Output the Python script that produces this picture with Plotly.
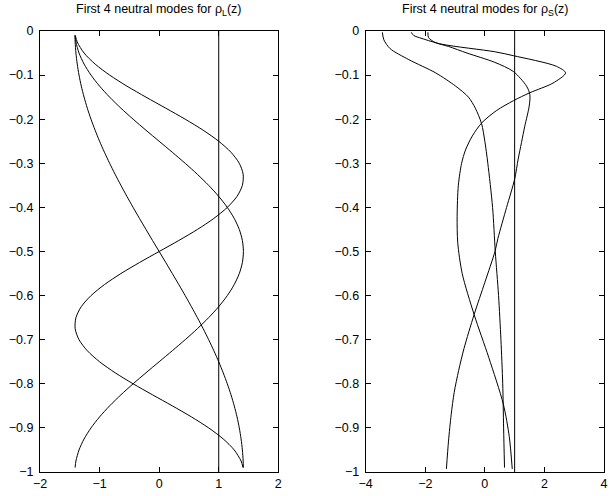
import plotly.graph_objects as go
from plotly.subplots import make_subplots

# ---------- left panel: modes for rho_L(z) ----------
z_left = [-0.01, -0.025, -0.05, -0.075, -0.10, -0.125, -0.15, -0.175, -0.20, -0.225,
          -0.25, -0.275, -0.30, -0.325, -0.35, -0.375, -0.40, -0.425, -0.45, -0.475,
          -0.50, -0.525, -0.55, -0.575, -0.60, -0.625, -0.65, -0.675, -0.70, -0.725,
          -0.75, -0.775, -0.80, -0.825, -0.85, -0.875, -0.90, -0.925, -0.95, -0.975, -0.99]
left_mode0_x = [1, 1]
left_mode0_z = [0, -1]
left_mode1 = [-1.413, -1.410, -1.397, -1.375, -1.345, -1.307, -1.260, -1.206, -1.144, -1.075,
              -1.000, -0.918, -0.831, -0.739, -0.642, -0.541, -0.437, -0.330, -0.221, -0.111,
              0.0, 0.111, 0.221, 0.330, 0.437, 0.541, 0.642, 0.739, 0.831, 0.918,
              1.000, 1.075, 1.144, 1.206, 1.260, 1.307, 1.345, 1.375, 1.397, 1.410, 1.413]
left_mode2 = [-1.411, -1.397, -1.345, -1.260, -1.144, -1.000, -0.831, -0.642, -0.437, -0.221,
              0.0, 0.221, 0.437, 0.642, 0.831, 1.000, 1.144, 1.260, 1.345, 1.397,
              1.414, 1.397, 1.345, 1.260, 1.144, 1.000, 0.831, 0.642, 0.437, 0.221,
              0.0, -0.221, -0.437, -0.642, -0.831, -1.000, -1.144, -1.260, -1.345, -1.397, -1.411]
left_mode3 = [-1.408, -1.375, -1.260, -1.075, -0.831, -0.541, -0.221, 0.111, 0.437, 0.739,
              1.000, 1.206, 1.345, 1.410, 1.397, 1.307, 1.144, 0.918, 0.642, 0.330,
              0.0, -0.330, -0.642, -0.918, -1.144, -1.307, -1.397, -1.410, -1.345, -1.206,
              -1.000, -0.739, -0.437, -0.111, 0.221, 0.541, 0.831, 1.075, 1.260, 1.375, 1.408]

# ---------- right panel: modes for rho_S(z) ----------
right_mode0_x = [1, 1]
right_mode0_z = [0, -1]
right_mode1_z = [-0.003, -0.02, -0.04, -0.065, -0.095, -0.125, -0.15, -0.175, -0.21, -0.25,
                 -0.30, -0.40, -0.50, -0.60, -0.70, -0.80, -0.90, -0.99]
right_mode1_x = [-3.44, -3.39, -3.18, -2.55, -1.65, -0.98, -0.55, -0.32, -0.11, 0.0,
                 0.10, 0.26, 0.35, 0.46, 0.54, 0.60, 0.63, 0.66]
right_mode2_z = [-0.003, -0.015, -0.026, -0.035, -0.05, -0.071, -0.092, -0.125, -0.144, -0.17,
                 -0.216, -0.253, -0.29, -0.336, -0.40, -0.47, -0.50, -0.57, -0.643, -0.72,
                 -0.77, -0.82, -0.87, -0.93, -0.993]
right_mode2_x = [-1.91, -1.89, -1.67, -1.22, -0.60, 0.33, 0.96, 1.40, 1.51, 1.49,
                 1.34, 1.23, 1.12, 1.00, 0.73, 0.44, 0.34, 0.0, -0.36, -0.70,
                 -0.88, -1.03, -1.13, -1.22, -1.29]
right_mode3_z = [-0.003, -0.01, -0.017, -0.03, -0.047, -0.056, -0.08, -0.095, -0.118, -0.14,
                 -0.158, -0.18, -0.208, -0.238, -0.27, -0.30, -0.35, -0.42, -0.48, -0.55,
                 -0.643, -0.74, -0.846, -0.92, -0.993]
right_mode3_x = [-2.47, -2.39, -2.11, -1.44, 0.33, 0.96, 2.40, 2.71, 2.29, 1.51,
                 0.96, 0.40, -0.10, -0.42, -0.65, -0.78, -0.89, -0.93, -0.91, -0.76,
                 -0.36, 0.13, 0.62, 0.82, 0.92]

left_xticks = [-2, -1, 0, 1, 2]
right_xticks = [-4, -2, 0, 2, 4]
yticks = [0, -0.1, -0.2, -0.3, -0.4, -0.5, -0.6, -0.7, -0.8, -0.9, -1]
titles = ["First 4 neutral modes for \u03c1<sub>L</sub>(z)",
          "First 4 neutral modes for \u03c1<sub>S</sub>(z)"]


def lab(v):
    s = ("%g" % v)
    return s.replace("-", "\u2212")


FONT = "Liberation Sans, Arial, Helvetica, sans-serif"
line = dict(color="black", width=1)
sline = dict(color="black", width=1, shape="spline", smoothing=0.8)

fig = make_subplots(rows=1, cols=2)

fig.add_trace(go.Scatter(x=left_mode0_x, y=left_mode0_z, mode="lines", line=line), 1, 1)
for m in (left_mode1, left_mode2, left_mode3):
    fig.add_trace(go.Scatter(x=m, y=z_left, mode="lines", line=sline), 1, 1)

fig.add_trace(go.Scatter(x=right_mode0_x, y=right_mode0_z, mode="lines", line=line), 1, 2)
for xs, zs in ((right_mode1_x, right_mode1_z), (right_mode2_x, right_mode2_z),
               (right_mode3_x, right_mode3_z)):
    fig.add_trace(go.Scatter(x=xs, y=zs, mode="lines", line=sline), 1, 2)

axis_common = dict(showgrid=False, zeroline=False, showline=True, linecolor="black",
                   linewidth=1, mirror="ticks", ticks="inside", ticklen=5,
                   tickcolor="black", tickfont=dict(family=FONT, size=12.5, color="black"))

fig.update_xaxes(range=[-2, 2], tickvals=left_xticks, ticktext=[lab(v) for v in left_xticks],
                 domain=[0, 240 / 568], **axis_common, row=1, col=1)
fig.update_xaxes(range=[-4, 4], tickvals=right_xticks, ticktext=[lab(v) for v in right_xticks],
                 domain=[328 / 568, 1], **axis_common, row=1, col=2)
fig.update_yaxes(range=[-1, 0], tickvals=yticks, ticktext=[lab(v) for v in yticks],
                 ticklabelstandoff=3, **axis_common)

annotations = []
for i, t in enumerate(titles):
    xref = "x domain" if i == 0 else "x2 domain"
    annotations.append(dict(text=t, xref=xref, yref="paper", x=0.5, y=1.0, yshift=11,
                            xanchor="center", yanchor="bottom", showarrow=False,
                            font=dict(family=FONT, size=12.5, color="black")))

fig.update_layout(width=613, height=496, margin=dict(l=40, r=5, t=31, b=21),
                  paper_bgcolor="white", plot_bgcolor="white", showlegend=False,
                  annotations=annotations, hovermode=False)

fig.write_html("out.html", config={"displayModeBar": False},
               post_script="document.body.style.margin='0';document.body.style.overflow='hidden';")
